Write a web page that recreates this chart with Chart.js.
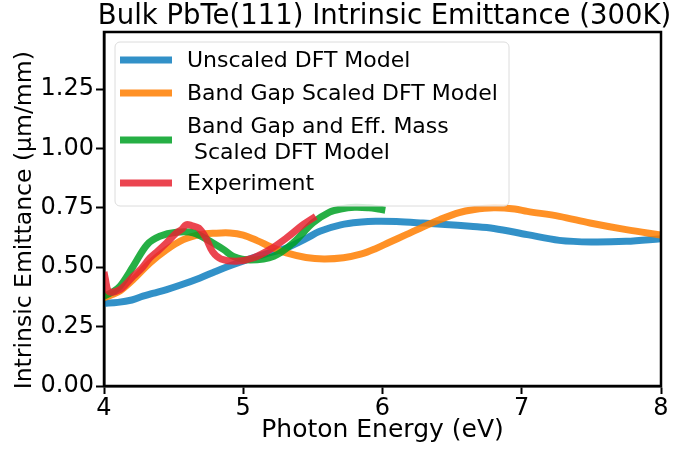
<!DOCTYPE html>
<html>
<head>
<meta charset="utf-8">
<script src="https://cdn.jsdelivr.net/npm/chart.js@4/dist/chart.umd.min.js"></script>
<style>
  html, body { margin: 0; padding: 0; background: #fff; }
  #wrap { width: 692px; height: 449px; }
</style>
</head>
<body>
<div id="wrap"><canvas id="c" width="692" height="449"></canvas></div>
<script>
// ---- Data ----
const chartTitle = 'Bulk PbTe(111) Intrinsic Emittance (300K)';
const xAxisTitle = 'Photon Energy (eV)';
const yAxisTitle = 'Intrinsic Emittance (\u03BCm/mm)\u00A0\u00A0\u00A0';
const seriesLabels = ['Unscaled DFT Model', 'Band Gap Scaled DFT Model', 'Band Gap and Eff. Mass\n Scaled DFT Model', 'Experiment'];

const unscaledE = [4.00, 4.10, 4.20, 4.28, 4.35, 4.45, 4.55, 4.69, 4.80, 4.90, 5.07, 5.20, 5.31, 5.45, 5.55, 5.70, 5.85, 5.95, 6.10, 6.29, 6.45, 6.63, 6.80, 7.04, 7.27, 7.50, 7.75, 8.00];
const unscaledV = [0.348, 0.352, 0.362, 0.378, 0.390, 0.406, 0.425, 0.455, 0.482, 0.505, 0.540, 0.562, 0.581, 0.620, 0.651, 0.678, 0.690, 0.693, 0.692, 0.686, 0.680, 0.672, 0.663, 0.637, 0.613, 0.606, 0.609, 0.620];

const gapScaledE = [4.00, 4.06, 4.115, 4.21, 4.33, 4.45, 4.57, 4.69, 4.80, 4.905, 5.00, 5.10, 5.20, 5.31, 5.45, 5.58, 5.72, 5.85, 5.95, 6.05, 6.17, 6.30, 6.41, 6.55, 6.65, 6.80, 6.95, 7.04, 7.27, 7.49, 7.75, 8.00];
const gapScaledV = [0.372, 0.385, 0.400, 0.448, 0.518, 0.574, 0.616, 0.637, 0.643, 0.644, 0.635, 0.612, 0.585, 0.560, 0.541, 0.535, 0.540, 0.556, 0.578, 0.605, 0.637, 0.672, 0.700, 0.730, 0.742, 0.750, 0.745, 0.735, 0.714, 0.686, 0.658, 0.635];

const gapMassE = [4.00, 4.06, 4.115, 4.21, 4.31, 4.40, 4.52, 4.64, 4.76, 4.86, 4.93, 5.05, 5.22, 5.36, 5.50, 5.62, 5.70, 5.80, 5.90, 5.97, 6.02];
const gapMassV = [0.378, 0.395, 0.420, 0.504, 0.595, 0.630, 0.647, 0.645, 0.610, 0.574, 0.545, 0.530, 0.546, 0.603, 0.687, 0.732, 0.745, 0.752, 0.750, 0.745, 0.740];

const experimentE = [4.00, 4.01, 4.03, 4.06, 4.115, 4.16, 4.21, 4.27, 4.33, 4.39, 4.45, 4.52, 4.56, 4.59, 4.63, 4.68, 4.73, 4.78, 4.84, 4.95, 5.07, 5.19, 5.31, 5.43, 5.52];
const experimentV = [0.480, 0.450, 0.400, 0.395, 0.406, 0.430, 0.462, 0.495, 0.539, 0.570, 0.603, 0.644, 0.660, 0.679, 0.675, 0.665, 0.625, 0.565, 0.535, 0.525, 0.539, 0.574, 0.623, 0.679, 0.714];

const xTicks = [4, 5, 6, 7, 8];
const yTicks = [0.00, 0.25, 0.50, 0.75, 1.00, 1.25];

const colors = ['rgba(14,126,190,0.85)', 'rgba(255,126,0,0.85)', 'rgba(0,161,37,0.85)', 'rgba(231,37,49,0.85)'];

function pts(xs, ys) { return xs.map((x, i) => ({ x: x, y: ys[i] })); }

Chart.defaults.font.family = "'DejaVu Sans', sans-serif";
Chart.defaults.color = '#000';

const frameLegendTitle = {
  id: 'frameLegendTitle',
  afterDatasetsDraw(chart) {
    const ctx = chart.ctx;
    const a = chart.chartArea;
    ctx.save();
    ctx.strokeStyle = '#000';
    ctx.lineWidth = 2.5;
    ctx.strokeRect(a.left, a.top, a.right - a.left, a.bottom - a.top);
    ctx.restore();
  },
  afterDraw(chart) {
    const ctx = chart.ctx;
    const a = chart.chartArea;
    ctx.save();
    // title, centred over the axes like matplotlib
    ctx.font = "27.5px 'DejaVu Sans'";
    ctx.fillStyle = '#000';
    ctx.textAlign = 'center';
    ctx.textBaseline = 'middle';
    ctx.fillText(chartTitle, (a.left + a.right) / 2 + 2, 16.6);

    // legend
    const bx = 115, by = 42, bw = 394, bh = 164, r = 5;
    ctx.beginPath();
    ctx.moveTo(bx + r, by);
    ctx.arcTo(bx + bw, by, bx + bw, by + bh, r);
    ctx.arcTo(bx + bw, by + bh, bx, by + bh, r);
    ctx.arcTo(bx, by + bh, bx, by, r);
    ctx.arcTo(bx, by, bx + bw, by, r);
    ctx.closePath();
    ctx.fillStyle = 'rgba(255,255,255,0.8)';
    ctx.fill();
    ctx.strokeStyle = '#dcdcdc';
    ctx.lineWidth = 1;
    ctx.stroke();
    const rows = [
      { y: 60, lines: [60] },
      { y: 93, lines: [93] },
      { y: 140, lines: [126, 152] },
      { y: 183, lines: [183] }
    ];
    ctx.font = "22px 'DejaVu Sans'";
    ctx.textBaseline = 'middle';
    ctx.textAlign = 'left';
    chart.data.datasets.forEach((ds, i) => {
      const row = rows[i];
      ctx.strokeStyle = ds.borderColor;
      ctx.lineWidth = 7;
      ctx.lineCap = 'butt';
      ctx.beginPath();
      ctx.moveTo(120, row.y);
      ctx.lineTo(172, row.y);
      ctx.stroke();
      ctx.fillStyle = '#000';
      const parts = ds.label.split('\n');
      parts.forEach((t, k) => ctx.fillText(t, 187, row.lines[k] + 1));
    });
    ctx.restore();
  }
};

const mk = (label, xs, ys, color, order) => ({
  label: label,
  data: pts(xs, ys),
  borderColor: color,
  backgroundColor: color,
  borderWidth: 7,
  pointRadius: 0,
  fill: false,
  tension: 0.35,
  borderCapStyle: 'butt',
  borderJoinStyle: 'round',
  order: order
});

new Chart(document.getElementById('c'), {
  type: 'line',
  data: {
    datasets: [
      mk(seriesLabels[0], unscaledE, unscaledV, colors[0], 4),
      mk(seriesLabels[1], gapScaledE, gapScaledV, colors[1], 3),
      mk(seriesLabels[2], gapMassE, gapMassV, colors[2], 2),
      mk(seriesLabels[3], experimentE, experimentV, colors[3], 1)
    ]
  },
  options: {
    responsive: false,
    animation: false,
    layout: { padding: { left: 0, right: 31, top: 32, bottom: 0 } },
    plugins: {
      legend: { display: false },
      tooltip: { enabled: false },
      title: { display: false }
    },
    scales: {
      x: {
        type: 'linear',
        min: 4, max: 8,
        afterBuildTicks: s => { s.ticks = xTicks.map(v => ({ value: v })); },
        afterFit: s => { s.height = 63; },
        ticks: { font: { size: 24, lineHeight: 1.0 }, color: '#000', padding: 3, maxRotation: 0, callback: v => String(v) },
        grid: { display: true, drawOnChartArea: false, drawTicks: true, tickLength: 8, tickWidth: 2, tickColor: '#000' },
        border: { display: true, color: '#000', width: 2.5 },
        title: { display: true, text: xAxisTitle, color: '#000', font: { size: 25, lineHeight: 1.1 }, padding: { top: 0, bottom: 5 } }
      },
      y: {
        type: 'linear',
        min: 0, max: 1.49,
        afterBuildTicks: s => { s.ticks = yTicks.map(v => ({ value: v })); },
        afterFit: s => { s.width = 104; },
        ticks: { font: { size: 24 }, color: '#000', padding: 2, callback: v => Number(v).toFixed(2) },
        grid: { display: true, drawOnChartArea: false, drawTicks: true, tickLength: 8, tickWidth: 2, tickColor: '#000' },
        border: { display: true, color: '#000', width: 2.5 },
        title: { display: true, text: yAxisTitle, color: '#000', font: { size: 23.5 }, padding: { top: 11, bottom: 0 } }
      }
    }
  },
  plugins: [frameLegendTitle]
});
</script>
</body>
</html>
